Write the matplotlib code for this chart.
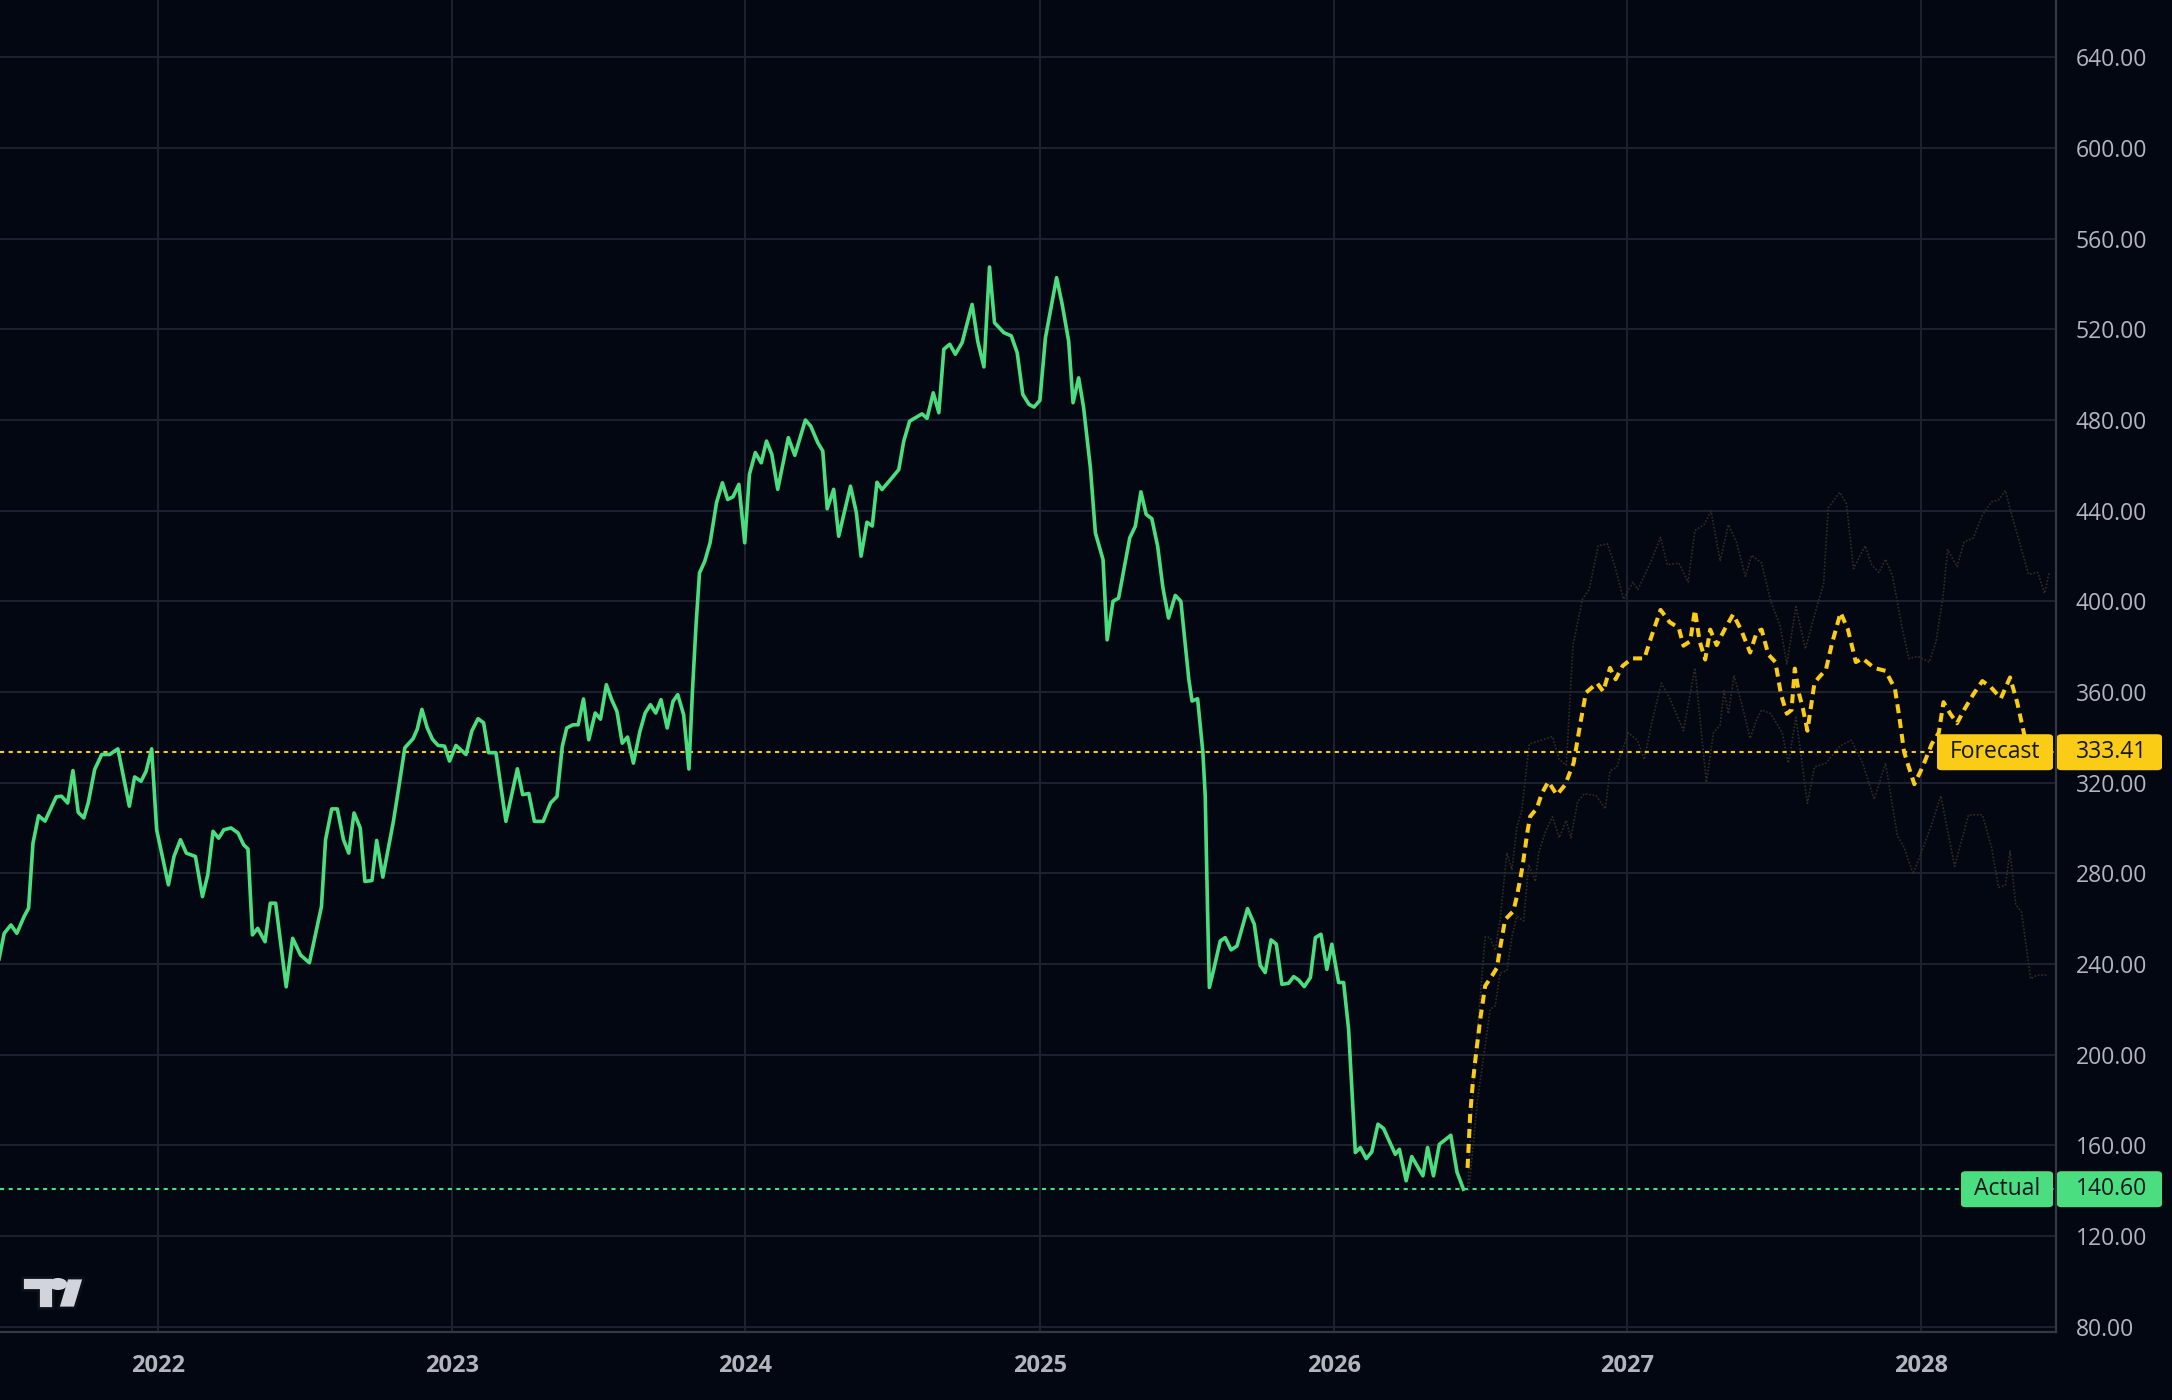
import matplotlib
matplotlib.use("Agg")
import matplotlib.pyplot as plt
import matplotlib.dates as mdates
from matplotlib.patches import Polygon, Circle, FancyBboxPatch
from matplotlib.ticker import FuncFormatter
from datetime import datetime, timedelta
import calendar

plt.rcParams['font.family'] = ['Open Sans', 'DejaVu Sans']
plt.rcParams['lines.scale_dashes'] = False

# ---------------- data (decimal years, prices) ----------------
actual_t = [2021.459, 2021.477, 2021.500, 2021.520, 2021.545, 2021.560, 2021.575, 2021.594, 2021.616, 2021.654,
            2021.672, 2021.693, 2021.711, 2021.729, 2021.748, 2021.763, 2021.785, 2021.809, 2021.836, 2021.864,
            2021.903, 2021.921, 2021.943, 2021.960, 2021.979, 2021.996, 2022.036, 2022.055, 2022.077, 2022.097,
            2022.128, 2022.152, 2022.170, 2022.188, 2022.207, 2022.225, 2022.249, 2022.273, 2022.292, 2022.307,
            2022.322, 2022.340, 2022.365, 2022.383, 2022.401, 2022.437, 2022.459, 2022.486, 2022.516, 2022.535,
            2022.557, 2022.571, 2022.592, 2022.611, 2022.632, 2022.650, 2022.668, 2022.689, 2022.705, 2022.729,
            2022.745, 2022.766, 2022.802, 2022.820, 2022.841, 2022.869, 2022.883, 2022.899, 2022.917, 2022.935,
            2022.954, 2022.976, 2022.993, 2023.015, 2023.049, 2023.069, 2023.090, 2023.109, 2023.126, 2023.151,
            2023.185, 2023.224, 2023.242, 2023.263, 2023.282, 2023.312, 2023.337, 2023.359, 2023.377, 2023.392,
            2023.413, 2023.431, 2023.449, 2023.467, 2023.489, 2023.507, 2023.527, 2023.545, 2023.563, 2023.581,
            2023.599, 2023.619, 2023.641, 2023.659, 2023.677, 2023.695, 2023.713, 2023.734, 2023.754, 2023.770,
            2023.790, 2023.808, 2023.820, 2023.832, 2023.844, 2023.862, 2023.880, 2023.902, 2023.922, 2023.940,
            2023.958, 2023.978, 2023.998, 2024.014, 2024.034, 2024.054, 2024.072, 2024.090, 2024.110, 2024.146,
            2024.168, 2024.204, 2024.222, 2024.246, 2024.263, 2024.278, 2024.300, 2024.317, 2024.357, 2024.377,
            2024.393, 2024.413, 2024.431, 2024.447, 2024.464, 2024.493, 2024.521, 2024.538, 2024.558, 2024.600,
            2024.617, 2024.638, 2024.657, 2024.674, 2024.694, 2024.713, 2024.736, 2024.770, 2024.789, 2024.810,
            2024.829, 2024.846, 2024.878, 2024.903, 2024.923, 2024.942, 2024.963, 2024.980, 2025.000, 2025.019,
            2025.057, 2025.076, 2025.098, 2025.113, 2025.132, 2025.149, 2025.172, 2025.189, 2025.215, 2025.229,
            2025.249, 2025.268, 2025.285, 2025.306, 2025.325, 2025.344, 2025.362, 2025.381, 2025.401, 2025.419,
            2025.438, 2025.461, 2025.480, 2025.507, 2025.518, 2025.537, 2025.555, 2025.563, 2025.571, 2025.577,
            2025.592, 2025.614, 2025.631, 2025.651, 2025.671, 2025.707, 2025.730, 2025.750, 2025.767, 2025.787,
            2025.805, 2025.824, 2025.847, 2025.864, 2025.881, 2025.900, 2025.921, 2025.938, 2025.957, 2025.977,
            2025.994, 2026.017, 2026.034, 2026.051, 2026.074, 2026.091, 2026.111, 2026.130, 2026.151, 2026.170,
            2026.210, 2026.224, 2026.247, 2026.266, 2026.304, 2026.320, 2026.340, 2026.360, 2026.399, 2026.420,
            2026.442]
actual_v = [242.0, 253.5, 257.2, 253.5, 261.0, 264.6, 293.3, 305.4, 303.0, 313.7,
            314.0, 311.0, 325.3, 306.9, 304.4, 311.0, 325.8, 332.4, 332.4, 334.9,
            309.6, 322.5, 320.6, 325.0, 334.9, 299.2, 274.9, 287.4, 294.8, 288.9,
            287.4, 269.7, 279.3, 298.5, 295.5, 299.2, 300.0, 297.8, 292.6, 290.7,
            252.8, 255.7, 249.8, 266.8, 266.8, 229.9, 251.3, 243.9, 240.5, 252.0,
            265.3, 294.8, 308.4, 308.4, 294.8, 288.9, 306.6, 300.0, 276.4, 276.8,
            294.5, 278.3, 302.9, 317.7, 335.4, 339.4, 343.5, 352.3, 344.2, 339.1,
            336.4, 336.1, 329.5, 336.4, 332.4, 342.8, 348.2, 346.4, 333.2, 333.2,
            302.9, 326.1, 314.7, 315.2, 302.9, 302.9, 311.0, 313.9, 336.0, 344.1,
            345.5, 345.5, 356.9, 338.9, 350.7, 348.0, 363.2, 356.6, 351.4, 337.4,
            340.1, 328.6, 342.5, 350.7, 354.4, 350.7, 356.6, 344.1, 355.9, 358.8,
            350.0, 326.0, 360.3, 389.0, 412.5, 417.7, 425.8, 443.5, 452.3, 444.9,
            446.1, 451.6, 425.8, 456.0, 465.6, 461.1, 470.7, 464.8, 449.4, 472.2,
            464.4, 480.0, 477.3, 470.0, 466.3, 440.8, 449.4, 428.7, 450.8, 439.1,
            419.9, 434.9, 433.2, 452.5, 449.3, 453.7, 458.1, 470.7, 479.5, 482.7,
            480.7, 492.0, 483.2, 511.2, 513.4, 509.0, 514.1, 531.0, 514.8, 503.4,
            547.5, 522.9, 518.5, 517.1, 509.7, 491.3, 486.9, 485.7, 488.6, 516.3,
            542.8, 531.0, 514.8, 487.6, 498.6, 485.4, 458.9, 430.2, 418.4, 383.0,
            400.0, 401.4, 413.2, 428.0, 433.1, 448.3, 438.3, 436.5, 424.3, 405.9,
            392.6, 402.6, 400.0, 365.6, 356.0, 357.0, 333.2, 314.0, 262.6, 229.6,
            237.6, 250.1, 251.6, 246.2, 247.9, 264.4, 257.5, 239.4, 236.2, 250.6,
            248.7, 231.0, 231.5, 234.4, 232.9, 230.0, 234.0, 251.6, 253.1, 237.6,
            248.7, 231.8, 231.8, 211.2, 156.8, 159.0, 154.1, 157.1, 169.3, 167.4,
            156.0, 158.2, 144.3, 155.0, 146.5, 159.0, 146.5, 160.4, 164.4, 148.2,
            140.6]

forecast_t = [2026.456, 2026.465, 2026.474, 2026.486, 2026.500, 2026.516, 2026.539, 2026.556, 2026.565, 2026.584,
              2026.612, 2026.624, 2026.635, 2026.644, 2026.652, 2026.660, 2026.669, 2026.692, 2026.709, 2026.731,
              2026.760, 2026.788, 2026.817, 2026.839, 2026.859, 2026.897, 2026.918, 2026.941, 2026.960, 2026.984,
              2027.016, 2027.058, 2027.081, 2027.113, 2027.144, 2027.175, 2027.191, 2027.214, 2027.230, 2027.246,
              2027.265, 2027.282, 2027.304, 2027.332, 2027.360, 2027.387, 2027.418, 2027.441, 2027.457, 2027.480,
              2027.504, 2027.523, 2027.543, 2027.559, 2027.570, 2027.585, 2027.598, 2027.613, 2027.637, 2027.652,
              2027.676, 2027.697, 2027.726, 2027.751, 2027.778, 2027.801, 2027.840, 2027.879, 2027.911, 2027.926,
              2027.942, 2027.958, 2027.977, 2028.005, 2028.036, 2028.060, 2028.076, 2028.099, 2028.122, 2028.146,
              2028.177, 2028.208, 2028.236, 2028.271, 2028.302, 2028.326, 2028.349, 2028.365]
forecast_v = [150.0, 173.8, 187.7, 201.7, 216.3, 230.3, 234.7, 238.3, 245.7, 259.6,
              263.3, 269.9, 277.2, 283.8, 291.1, 298.4, 305.0, 308.7, 315.3, 320.4,
              314.6, 319.0, 328.6, 345.4, 359.7, 363.9, 360.2, 370.6, 365.6, 371.5,
              374.8, 374.8, 384.1, 396.2, 390.8, 388.3, 380.4, 382.4, 396.2, 382.4,
              374.3, 387.5, 380.7, 387.8, 394.2, 387.5, 377.4, 386.6, 387.5, 376.5,
              373.2, 358.9, 350.4, 352.1, 370.3, 358.9, 352.5, 342.9, 363.9, 366.4,
              369.8, 381.6, 395.0, 387.5, 373.2, 374.8, 370.6, 369.3, 361.4, 348.8,
              333.6, 326.9, 319.3, 326.9, 337.0, 342.0, 355.5, 350.4, 346.2, 352.1,
              358.9, 364.8, 362.2, 357.2, 366.4, 355.5, 342.0, 333.41]

upper_t = [2026.456, 2026.476, 2026.500, 2026.516, 2026.533, 2026.550, 2026.567, 2026.590, 2026.607, 2026.624,
           2026.641, 2026.666, 2026.690, 2026.745, 2026.768, 2026.792, 2026.815, 2026.847, 2026.870, 2026.901,
           2026.932, 2026.956, 2026.987, 2027.019, 2027.036, 2027.081, 2027.113, 2027.136, 2027.175, 2027.207,
           2027.230, 2027.261, 2027.285, 2027.316, 2027.344, 2027.371, 2027.402, 2027.423, 2027.457, 2027.488,
           2027.520, 2027.543, 2027.574, 2027.606, 2027.645, 2027.668, 2027.684, 2027.723, 2027.746, 2027.770,
           2027.809, 2027.832, 2027.856, 2027.879, 2027.903, 2027.934, 2027.958, 2027.989, 2028.028, 2028.051,
           2028.075, 2028.090, 2028.122, 2028.146, 2028.177, 2028.208, 2028.239, 2028.263, 2028.286, 2028.310,
           2028.341, 2028.365, 2028.396, 2028.419, 2028.435]
upper_v = [140.0, 189.0, 227.0, 252.0, 251.6, 246.0, 259.6, 289.0, 281.6, 300.6,
           308.0, 337.0, 338.0, 340.3, 330.2, 327.7, 380.7, 400.9, 405.2, 424.5,
           425.4, 416.1, 400.9, 408.5, 405.2, 417.8, 428.2, 416.1, 416.9, 408.5,
           431.2, 433.8, 439.7, 417.8, 433.8, 426.2, 411.0, 420.3, 416.9, 400.1,
           389.2, 372.3, 397.6, 379.0, 397.6, 407.7, 441.3, 448.1, 443.0, 414.4,
           424.5, 416.1, 412.7, 418.6, 411.0, 389.2, 374.8, 375.7, 373.2, 382.4,
           402.6, 422.8, 415.3, 426.2, 427.9, 438.0, 443.9, 444.7, 448.9, 437.1,
           422.8, 411.9, 412.7, 403.5, 412.7]

lower_t = [2026.460, 2026.490, 2026.516, 2026.533, 2026.550, 2026.567, 2026.590, 2026.607, 2026.624, 2026.647,
           2026.664, 2026.687, 2026.698, 2026.721, 2026.745, 2026.768, 2026.792, 2026.808, 2026.831, 2026.854,
           2026.894, 2026.925, 2026.941, 2026.964, 2027.003, 2027.034, 2027.058, 2027.081, 2027.116, 2027.144,
           2027.191, 2027.230, 2027.269, 2027.293, 2027.316, 2027.329, 2027.344, 2027.363, 2027.391, 2027.418,
           2027.438, 2027.457, 2027.488, 2027.527, 2027.548, 2027.574, 2027.613, 2027.637, 2027.676, 2027.723,
           2027.762, 2027.801, 2027.840, 2027.879, 2027.919, 2027.942, 2027.973, 2028.005, 2028.036, 2028.067,
           2028.091, 2028.114, 2028.161, 2028.208, 2028.239, 2028.263, 2028.286, 2028.302, 2028.321, 2028.341,
           2028.372, 2028.394, 2028.427]
lower_v = [140.0, 180.0, 204.0, 220.0, 221.5, 236.0, 237.0, 252.0, 261.0, 259.0,
           283.8, 276.4, 289.0, 298.2, 305.0, 295.7, 303.3, 295.7, 311.7, 315.1,
           314.2, 308.4, 325.2, 326.9, 342.0, 338.7, 330.2, 345.4, 363.9, 357.2,
           342.9, 370.6, 320.1, 342.0, 345.4, 360.5, 350.4, 367.3, 353.8, 339.5,
           347.1, 352.1, 350.4, 342.0, 328.6, 348.8, 310.9, 326.9, 328.6, 336.1,
           338.7, 328.6, 312.6, 328.6, 296.6, 291.5, 279.7, 290.7, 301.6, 314.2,
           298.2, 283.1, 305.8, 305.8, 291.5, 273.8, 274.7, 289.8, 266.3, 262.9,
           233.4, 235.1, 235.1]

y_ticks = [80, 120, 160, 200, 240, 280, 320, 360, 400, 440, 480, 520, 560, 600, 640]
x_tick_years = [2022, 2023, 2024, 2025, 2026, 2027, 2028]
forecast_last = 333.41
actual_last = 140.60
forecast_label = "Forecast"
actual_label = "Actual"


def to_date(y):
    yr = int(y)
    days = 366 if calendar.isleap(yr) else 365
    return datetime(yr, 1, 1) + timedelta(days=(y - yr) * days)


# ---------------- styling ----------------
BG = '#030712'
GRID = '#1c2230'
AXISLINE = '#343844'
TXT = '#b2b5be'
GREEN = '#4ade80'
YELLOW = '#facc15'
BAND = '#302e23'
DARK = '#131722'

W, H = 2172, 1400
fig = plt.figure(figsize=(W / 100, H / 100), dpi=100, facecolor=BG)
ax = fig.add_axes([0, 68 / H, 2056 / W, 1 - 68 / H])
ax.set_facecolor(BG)

ax.set_xlim(to_date(2021.4627), to_date(2028.458))
ax.set_ylim(77.6, 665.3)

for s in ['top', 'left']:
    ax.spines[s].set_visible(False)
for s in ['right', 'bottom']:
    ax.spines[s].set_color(AXISLINE)
    ax.spines[s].set_linewidth(1.6)

ax.yaxis.tick_right()
ax.set_yticks(y_ticks)
ax.yaxis.set_major_formatter(FuncFormatter(lambda v, p: f"{v:.2f}"))
ax.set_xticks([datetime(y, 1, 1) for y in x_tick_years])
ax.set_xticklabels([str(y) for y in x_tick_years])
ax.tick_params(axis='y', length=0, pad=14, labelsize=16.5, labelcolor=TXT)
ax.tick_params(axis='x', length=0, pad=16, labelsize=17, labelcolor=TXT)
for lab in ax.get_xticklabels():
    lab.set_fontweight('bold')
ax.grid(True, color=GRID, linewidth=1.4)
ax.set_axisbelow(True)

# faint scenario bands
ax.plot([to_date(t) for t in upper_t], upper_v, color=BAND, linewidth=1.2,
        linestyle=(0, (1.2, 1.3)), zorder=2)
ax.plot([to_date(t) for t in lower_t], lower_v, color=BAND, linewidth=1.2,
        linestyle=(0, (1.2, 1.3)), zorder=2)

# reference dotted lines
ax.axhline(forecast_last, color=YELLOW, linewidth=1.5, linestyle=(0, (3, 3.2)), zorder=3)
ax.axhline(actual_last, color=GREEN, linewidth=1.5, linestyle=(0, (3, 3.2)), zorder=3)

# actual series
ax.plot([to_date(t) for t in actual_t], actual_v, color=GREEN, linewidth=2.6,
        solid_joinstyle='round', zorder=5)
# forecast series
ax.plot([to_date(t) for t in forecast_t], forecast_v, color=YELLOW, linewidth=2.9,
        linestyle=(0, (6.5, 4.3)), dash_capstyle='butt', zorder=6)

# ---------------- price labels ----------------
def fig_y(value):
    disp = ax.transData.transform((mdates.date2num(to_date(2026)), value))
    return fig.transFigure.inverted().transform(disp)[1]


def label(value, text, color, x0):
    yc = fig_y(value)
    hh = 36 / H
    fig.patches.append(FancyBboxPatch((x0 / W, yc - hh / 2), (2053 - x0) / W, hh,
                                      boxstyle="round,pad=0,rounding_size=0.0022",
                                      transform=fig.transFigure, facecolor=color,
                                      edgecolor='none', zorder=10))
    fig.patches.append(FancyBboxPatch((2057 / W, yc - hh / 2), (2162 - 2057) / W, hh,
                                      boxstyle="round,pad=0,rounding_size=0.0022",
                                      transform=fig.transFigure, facecolor=color,
                                      edgecolor='none', zorder=10))
    fig.text((x0 + 2053) / 2 / W, yc, text, ha='center', va='center',
             fontsize=16.5, color=DARK, zorder=11)
    fig.text(2076 / W, yc, f"{value:.2f}", ha='left', va='center',
             fontsize=16.5, color=DARK, zorder=11)


label(forecast_last, forecast_label, YELLOW, 1937)
label(actual_last, actual_label, GREEN, 1961)

# ---------------- logo ----------------
def P(x, y):
    return (x / W, 1 - y / H)

LOGO = '#d1d4dc'
t_shape = [P(22, 1277), P(53, 1277), P(53, 1308), P(38, 1308), P(38, 1290), P(22, 1290)]
slash = [P(67, 1278), P(84, 1278), P(75, 1308), P(58, 1308)]
for pts in (t_shape, slash):
    fig.patches.append(Polygon(pts, closed=True, transform=fig.transFigure,
                               facecolor=LOGO, edgecolor='#0b0f1a', linewidth=2, zorder=12))
fig.patches.append(Circle(P(58, 1284), 6 / H, transform=fig.transFigure,
                          facecolor=LOGO, edgecolor='none', zorder=12))

fig.savefig('out.png', dpi=100, facecolor=BG)
